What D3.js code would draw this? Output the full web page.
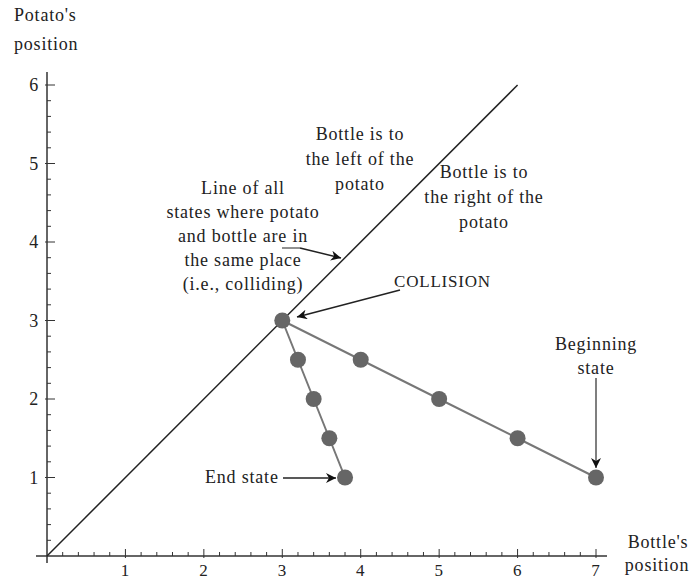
<!DOCTYPE html>
<html><head><meta charset="utf-8">
<script src="https://cdn.jsdelivr.net/npm/d3@7"></script>
<style>body{margin:0;background:#fff}svg{display:block}text{font-family:"Liberation Serif","DejaVu Serif",serif;fill:#222;letter-spacing:0.8px}</style>
</head><body>
<script>
const xTicks = [1,2,3,4,5,6,7];
const yTicks = [1,2,3,4,5,6];
const diagonal = [[0,0],[6,6]];
const beforeCollision = [[7,1],[6,1.5],[5,2],[4,2.5],[3,3]];
const afterCollision = [[3,3],[3.2,2.5],[3.4,2],[3.6,1.5],[3.8,1]];

const W=692,H=581;
const svg=d3.select("body").append("svg").attr("width",W).attr("height",H);
const x=d3.scaleLinear().domain([0,7]).range([47,596]);
const y=d3.scaleLinear().domain([0,6]).range([556,85]);

const defs=svg.append("defs");
defs.append("marker").attr("id","ah").attr("viewBox","0 0 10 10").attr("refX",10).attr("refY",5)
 .attr("markerWidth",14).attr("markerHeight",10).attr("markerUnits","userSpaceOnUse").attr("orient","auto")
 .append("path").attr("d","M0,0 L10,5 L0,10 L3,5 Z").attr("fill","#111");

// axes
const ax=svg.append("g").attr("stroke","#333").attr("stroke-width",1.5);
ax.append("line").attr("x1",36).attr("x2",607).attr("y1",y(0)).attr("y2",y(0));
ax.append("line").attr("x1",x(0)).attr("x2",x(0)).attr("y1",563).attr("y2",72);
const minorX=d3.range(1,36).map(i=>i/5);
const minorY=d3.range(1,31).map(i=>i/5);
minorX.forEach(v=>{const maj=Math.abs(v-Math.round(v))<1e-9;
 ax.append("line").attr("x1",x(v)).attr("x2",x(v)).attr("y1",y(0)+(maj?2:0)).attr("y2",y(0)-(maj?7:4)).attr("stroke-width",1);});
minorY.forEach(v=>{const maj=Math.abs(v-Math.round(v))<1e-9;
 ax.append("line").attr("y1",y(v)).attr("y2",y(v)).attr("x1",x(0)-(maj?2:0)).attr("x2",x(0)+(maj?8:4)).attr("stroke-width",1);});
svg.selectAll(".xt").data(xTicks).enter().append("text").attr("x",d=>x(d)).attr("y",576).attr("text-anchor","middle").attr("font-size",17).text(d=>d);
svg.selectAll(".yt").data(yTicks).enter().append("text").attr("x",39).attr("y",d=>y(d)+6).attr("text-anchor","end").attr("font-size",18).text(d=>d);

svg.append("text").attr("x",14).attr("y",21).attr("font-size",18).text("Potato's");
svg.append("text").attr("x",14).attr("y",50).attr("font-size",18).text("position");
svg.append("text").attr("x",658).attr("y",548).attr("text-anchor","middle").attr("font-size",18).text("Bottle's");
svg.append("text").attr("x",657).attr("y",571).attr("text-anchor","middle").attr("font-size",18).text("position");

// diagonal
const line=d3.line().x(d=>x(d[0])).y(d=>y(d[1]));
svg.append("path").attr("d",line(diagonal)).attr("stroke","#222").attr("stroke-width",1.5).attr("fill","none");
svg.append("path").attr("d",line(beforeCollision)).attr("stroke","#777").attr("stroke-width",2).attr("fill","none");
svg.append("path").attr("d",line(afterCollision)).attr("stroke","#777").attr("stroke-width",2).attr("fill","none");
svg.selectAll(".pt").data(beforeCollision.concat(afterCollision.slice(1))).enter().append("circle")
 .attr("cx",d=>x(d[0])).attr("cy",d=>y(d[1])).attr("r",8).attr("fill","#666");

// annotations
function block(lines,cx,y0,dy){lines.forEach((t,i)=>svg.append("text").attr("x",cx).attr("y",y0+i*dy).attr("text-anchor","middle").attr("font-size",18).text(t));}
block(["Bottle is to","the left of the","potato"],360,140,25);
block(["Line of all","states where potato","and bottle are in","the same place","(i.e., colliding)"],243,194,24);
block(["Bottle is to","the right of the","potato"],484,178,25);
block(["Beginning","state"],596,350,24);
svg.append("text").attr("x",394).attr("y",287).attr("font-size",17).text("COLLISION");
svg.append("text").attr("x",205).attr("y",483).attr("font-size",18).text("End state");

function arrow(x1,y1,x2,y2,c){svg.append("line").attr("x1",x1).attr("y1",y1).attr("x2",x2).attr("y2",y2)
 .attr("stroke",c||"#222").attr("stroke-width",1.5).attr("marker-end","url(#ah)");}
arrow(300,248,341,258);
arrow(400,290,297,317);
arrow(596,378,596,468,"#555");
arrow(283,478,336,478);
svg.append("line").attr("x1",282).attr("x2",300).attr("y1",248).attr("y2",248).attr("stroke","#222").attr("stroke-width",1);
</script>
</body></html>
